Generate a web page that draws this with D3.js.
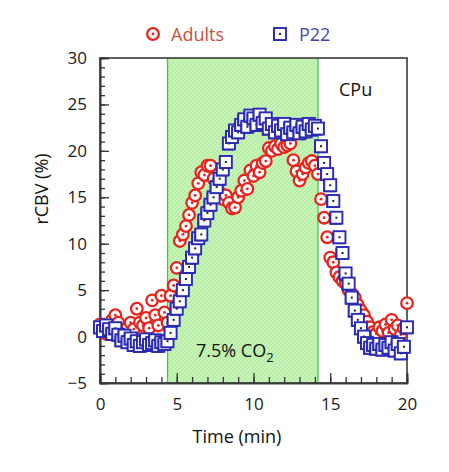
<!DOCTYPE html>
<html><head><meta charset="utf-8">
<script src="https://cdn.jsdelivr.net/npm/d3@7"></script>
<style>
html,body{margin:0;padding:0;background:#fff;}
text{font-family:"Open Sans","Noto Sans",sans-serif;}
</style></head>
<body>
<svg id="chart" width="449" height="472"></svg>
<script>
const times = [0,0.2,0.4,0.6,0.8,1,1.2,1.4,1.6,1.8,2,2.2,2.4,2.6,2.8,3,3.2,3.4,3.6,3.8,4,4.2,4.4,4.6,4.8,5,5.2,5.4,5.6,5.8,6,6.2,6.4,6.6,6.8,7,7.2,7.4,7.6,7.8,8,8.2,8.4,8.6,8.8,9,9.2,9.4,9.6,9.8,10,10.2,10.4,10.6,10.8,11,11.2,11.4,11.6,11.8,12,12.2,12.4,12.6,12.8,13,13.2,13.4,13.6,13.8,14,14.2,14.4,14.6,14.8,15,15.2,15.4,15.6,15.8,16,16.2,16.4,16.6,16.8,17,17.2,17.4,17.6,17.8,18,18.2,18.4,18.6,18.8,19,19.2,19.4,19.6,19.8,20];
const adults = [1.3,0.8,0.3,1.0,1.8,2.3,1.5,0.6,0.2,1.0,1.5,0.8,3.0,1.5,1.2,2.0,0.9,3.9,2.3,1.2,4.4,2.6,1.5,4.4,5.5,7.4,10.3,11.0,11.9,13.1,14.4,15.2,16.5,17.7,17.4,18.4,18.4,17.0,16.2,15.5,14.8,15.2,14.4,13.8,13.9,15.0,15.7,16.8,15.9,17.9,17.3,18.4,17.7,18.7,18.9,20.3,20.0,20.5,20.2,20.8,20.4,20.6,20.8,19.0,17.8,16.8,17.5,18.2,18.7,18.9,18.4,17.5,14.8,12.8,10.7,8.5,8.0,6.9,6.4,6.0,5.7,5.0,4.6,4.2,3.4,2.8,2.3,1.6,1.0,0.5,0.3,1.0,0.6,1.3,0.4,1.8,0.8,1.2,0.2,0.9,3.6];
const p22 = [1.0,0.6,1.2,0.8,0.3,0.9,0.2,-0.4,0.1,-0.6,-0.2,-0.9,-0.5,-1.0,-0.6,-0.3,-0.9,-0.7,-0.4,-1.0,-0.6,-0.8,-0.5,0.4,1.8,3.0,3.8,5.0,6.2,7.5,8.5,9.5,10.6,11.0,12.5,13.3,14.2,15.0,16.1,17.0,18.0,18.8,20.8,21.5,22.2,22.0,22.8,23.4,22.6,23.8,23.5,22.8,23.9,23.0,23.5,22.4,22.9,22.0,22.7,22.2,22.9,21.8,22.5,22.0,22.8,21.9,22.6,22.1,22.9,22.3,22.7,22.4,20.5,18.7,17.5,16.3,14.6,12.8,10.7,9.0,6.8,5.7,4.2,2.8,1.8,0.9,0.0,-0.7,-1.2,-0.9,-1.3,-0.8,-1.4,-0.9,-1.2,-0.6,-1.5,-0.8,-1.8,-1.1,1.0];
const xTicks = [0,5,10,15,20];
const yTicks = [-5,0,5,10,15,20,25,30];
const co2Window = [4.4,14.2];
const seriesNames = ["Adults","P22"];

const svg = d3.select("#chart");
const L=100,R=407,T=58,B=383;
const x = d3.scaleLinear().domain([0,20]).range([L,R]);
const y = d3.scaleLinear().domain([-5,30]).range([B,T]);

const defs = svg.append("defs");
const pat = defs.append("pattern").attr("id","hatch").attr("patternUnits","userSpaceOnUse")
  .attr("width",4).attr("height",4);
pat.append("rect").attr("width",4).attr("height",4).attr("fill","#c6f4b6");
pat.append("path").attr("d","M-1,1 l2,-2 M0,4 l4,-4 M3,5 l2,-2").attr("stroke","#a9e596").attr("stroke-width",0.8);

// CO2 window
svg.append("rect").attr("x",x(co2Window[0])).attr("y",T).attr("width",x(co2Window[1])-x(co2Window[0]))
  .attr("height",B-T).attr("fill","url(#hatch)");
co2Window.forEach(v=>svg.append("line").attr("x1",x(v)).attr("x2",x(v)).attr("y1",T).attr("y2",B)
  .attr("stroke","#3ccc3c").attr("stroke-width",1.3));

// frame
svg.append("rect").attr("x",L).attr("y",T).attr("width",R-L).attr("height",B-T)
  .attr("fill","none").attr("stroke","#3a3a3a").attr("stroke-width",1.6);

// axes
const fontSize = 17;
const yAx = svg.append("g").attr("transform",`translate(${L},0)`)
  .call(d3.axisLeft(y).tickValues(yTicks).tickSize(-9).tickPadding(13).tickFormat(d=>d<0?"\u2212"+(-d):d));
const yMin = svg.append("g").attr("transform",`translate(${L},0)`)
  .call(d3.axisLeft(y).tickValues(d3.range(-5,31,1)).tickSize(-5).tickFormat(""));
const xAx = svg.append("g").attr("transform",`translate(0,${B})`)
  .call(d3.axisBottom(x).tickValues(xTicks).tickSize(-10).tickPadding(15));
const xMin = svg.append("g").attr("transform",`translate(0,${B})`)
  .call(d3.axisBottom(x).tickValues(d3.range(0,21,1)).tickSize(-6).tickFormat(""));
[yAx,yMin,xAx,xMin].forEach(g=>{
  g.select(".domain").attr("stroke","#3a3a3a").attr("stroke-width",1.6);
  g.selectAll(".tick line").attr("stroke","#333").attr("stroke-width",1.3);
  g.selectAll(".tick text").attr("font-size",fontSize).attr("fill","#1a1a1a")
   .attr("font-family","'Open Sans','Noto Sans',sans-serif");
});
xAx.selectAll(".tick text").attr("dy","0.71em");

// markers
const red="#e3261e", blue="#2a2ab4";
function circleMark(g,cx,cy){
  g.append("circle").attr("cx",cx).attr("cy",cy).attr("r",5.8).attr("fill","#fff")
   .attr("stroke",red).attr("stroke-width",2.3);
  g.append("circle").attr("cx",cx).attr("cy",cy).attr("r",1.4).attr("fill",red);
}
function squareMark(g,cx,cy){
  g.append("rect").attr("x",cx-7).attr("y",cy-5).attr("width",12).attr("height",12)
   .attr("fill","#1e1e8a");
  g.append("rect").attr("x",cx-6).attr("y",cy-6).attr("width",12).attr("height",12)
   .attr("fill","#fff").attr("stroke",blue).attr("stroke-width",1.9);
  g.append("rect").attr("x",cx-1).attr("y",cy-1).attr("width",2).attr("height",2).attr("fill","#222");
}
const gA = svg.append("g");
times.forEach((t,i)=>circleMark(gA,x(t),y(adults[i])));
const gP = svg.append("g");
times.forEach((t,i)=>squareMark(gP,x(t),y(p22[i])));

// legend
const lg = svg.append("g");
circleMark(lg,153,34);
lg.append("text").attr("x",171).attr("y",40.5).attr("font-size",18).attr("fill","#c9503f").text(seriesNames[0]);
squareMark(lg,280,34);
lg.append("text").attr("x",299).attr("y",40.5).attr("font-size",18).attr("fill","#4545a8").text(seriesNames[1]);

// annotations
svg.append("text").attr("x",339).attr("y",96).attr("font-size",18).attr("fill","#111").text("CPu");
const co2 = svg.append("text").attr("x",196).attr("y",357).attr("font-size",18).attr("fill","#111");
co2.append("tspan").text("7.5% CO");
co2.append("tspan").attr("font-size",13).attr("dy",5).text("2");

// axis titles
svg.append("text").attr("transform","translate(48,189) rotate(-90)").attr("text-anchor","middle")
  .attr("font-size",18).attr("fill","#111").text("rCBV (%)");
svg.append("text").attr("x",237).attr("y",443).attr("text-anchor","middle")
  .attr("font-size",18).attr("fill","#111").text("Time (min)");
</script>
</body></html>
